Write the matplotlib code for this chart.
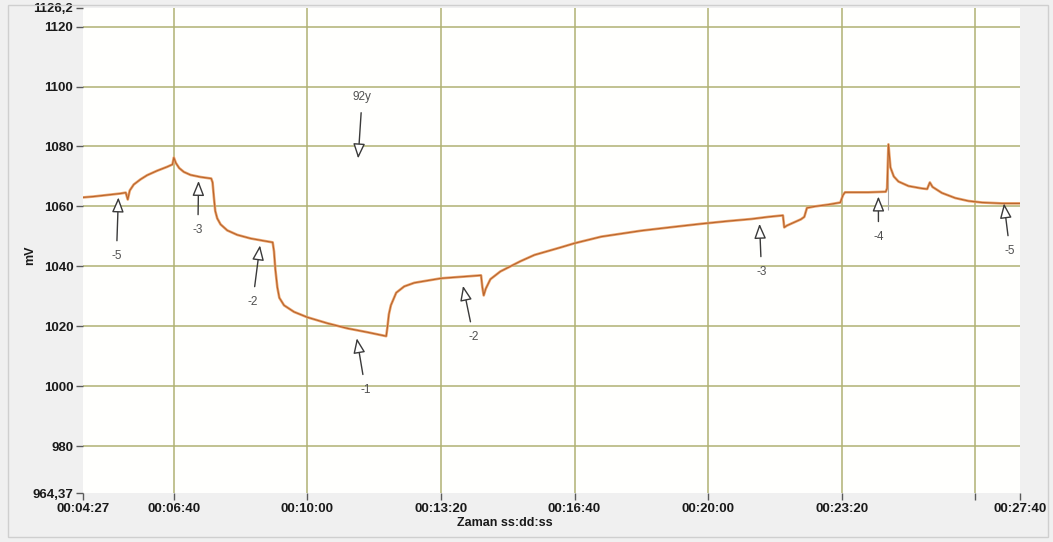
import matplotlib.pyplot as plt
from matplotlib.patches import Rectangle

# ---------------------------------------------------------------------------
# Ölçüm verisi (zaman: s, potansiyel: mV)
# ---------------------------------------------------------------------------
time_s = [
    264, 280, 300, 320, 328, 331, 334, 340, 350, 360, 375, 390, 398, 400,
    403, 408, 415, 425, 440, 456, 458, 460, 462, 465, 470, 480, 495, 515,
    535, 548, 550, 552, 555, 558, 565, 580, 600, 630, 660, 690, 718,
    720, 722, 725, 733, 745, 760, 800, 830, 860, 862, 864, 867, 874, 889,
    919, 940, 979, 1000, 1040, 1100, 1150, 1190, 1230, 1265, 1290, 1312,
    1314, 1318, 1330, 1339, 1344, 1348, 1360, 1380, 1398, 1402, 1405,
    1440, 1466, 1468, 1470, 1473, 1478, 1485, 1500, 1520, 1528, 1532,
    1536, 1550, 1570, 1590, 1610, 1640, 1667,
]
voltage_mv = [
    1063.0, 1063.3, 1063.8, 1064.3, 1064.6, 1062.3, 1065.3, 1067.3, 1069.0,
    1070.4, 1071.9, 1073.2, 1074.0, 1076.3,
    1074.5, 1072.8, 1071.5, 1070.5, 1069.8, 1069.3, 1068.0, 1063.0, 1058.5,
    1056.0, 1054.0, 1052.0, 1050.5, 1049.3,
    1048.5, 1048.0, 1045.0, 1039.0, 1033.0, 1029.5, 1027.0, 1024.8, 1023.0,
    1021.0, 1019.3, 1018.0, 1016.7,
    1020.0, 1024.0, 1027.0, 1031.2, 1033.3, 1034.5, 1036.0, 1036.5, 1037.0,
    1033.0, 1030.3, 1032.5, 1035.7, 1038.3,
    1041.7, 1043.8, 1046.3, 1047.7, 1049.9, 1051.9, 1053.2, 1054.2, 1055.1,
    1055.8, 1056.5, 1057.0,
    1053.0, 1053.6, 1054.8, 1055.7, 1056.5, 1059.5, 1060.0, 1060.6, 1061.3,
    1063.8, 1064.7,
    1064.7, 1064.9, 1066.0, 1080.7, 1073.0, 1070.0, 1068.3, 1066.8, 1066.0,
    1065.8, 1068.0,
    1066.5, 1064.5, 1062.8, 1061.8, 1061.3, 1061.0, 1061.0,
]

# ince dikey işaret çizgisi (sıçrama anı)
spike_t = 1470
spike_range = (1058.7, 1081.0)

# ok etiketleri: metin, metin konumu (t, mV), ok ucu (t, mV)
note_labels = ["-5", "-3", "-2", "92y", "-1", "-2", "-3", "-4", "-5"]
note_text_t = [314, 436, 518, 682, 687, 849, 1280, 1455, 1652]
note_text_v = [1043.3, 1052.0, 1028.0, 1096.5, 998.7, 1016.3, 1038.0, 1049.7, 1045.0]
note_head_t = [317, 437, 529, 676, 674, 833, 1277, 1455, 1643]
note_head_v = [1063.0, 1068.5, 1047.0, 1076.0, 1016.0, 1033.5, 1054.2, 1063.3, 1061.0]

# eksen sınırları ve etiketleri
x_min, x_max = 264, 1667
y_min, y_max = 964.37, 1126.2
x_ticks = [x_min, 400, 600, 800, 1000, 1200, 1400, 1600, x_max]
x_labels = ["00:04:27", "00:06:40", "00:10:00", "00:13:20", "00:16:40",
            "00:20:00", "00:23:20", "", "00:27:40"]
x_grid = [400, 600, 800, 1000, 1200, 1400, 1600]
y_grid = [980, 1000, 1020, 1040, 1060, 1080, 1100, 1120]
y_ticks = [y_min] + y_grid + [y_max]
y_labels = ["964,37"] + [str(v) for v in y_grid] + ["1126,2"]

# ---------------------------------------------------------------------------
# Çizim
# ---------------------------------------------------------------------------
W, H = 1053, 542
fig = plt.figure(figsize=(W / 100, H / 100), dpi=100)
fig.patch.set_facecolor("#f0f0f0")
fig.patches.append(Rectangle((8 / W, 5 / H), 1040 / W, 532 / H,
                             transform=fig.transFigure, fill=False,
                             edgecolor="#cfcfcf", linewidth=1.0))

ax = fig.add_axes([83 / W, (H - 493) / H, (1020 - 83) / W, (493 - 8) / H])
ax.set_facecolor("#fffffd")
for s in ax.spines.values():
    s.set_visible(False)

grid_color = "#b0b273"
for yv in y_grid:
    ax.axhline(yv, color=grid_color, lw=1.1, zorder=1)
for xv in x_grid:
    ax.axvline(xv, color=grid_color, lw=1.1, zorder=1)

ax.vlines(spike_t, *spike_range, color="#a8a8a8", lw=0.8, zorder=2)
ax.plot(time_s, voltage_mv, color="#eba56e", lw=1.9, zorder=3,
        solid_joinstyle="round")
ax.plot(time_s, voltage_mv, color="#b8642c", lw=0.8, zorder=4,
        solid_joinstyle="round")

for lab, tx, tv, hx, hv in zip(note_labels, note_text_t, note_text_v,
                               note_head_t, note_head_v):
    ax.annotate(lab, xy=(hx, hv), xytext=(tx, tv),
                ha="center", va="center", fontsize=8.5, color="#505050",
                family="Liberation Sans",
                arrowprops=dict(arrowstyle="-|>,head_length=0.75,head_width=0.3",
                                mutation_scale=12, fc="white", ec="#3a3a3a",
                                lw=1.0, shrinkA=5, shrinkB=0),
                zorder=5)

ax.set_xlim(x_min, x_max)
ax.set_ylim(y_min, y_max)
ax.set_xticks(x_ticks)
ax.set_xticklabels(x_labels)
ax.set_yticks(y_ticks)
ax.set_yticklabels(y_labels)
ax.tick_params(axis="both", colors="#5a5a5a", length=5, width=1.0,
               labelcolor="#1a1a1a", labelsize=9.5)
ax.tick_params(axis="x", pad=2)
ax.tick_params(axis="y", pad=2)
for lbl in ax.get_xticklabels() + ax.get_yticklabels():
    lbl.set_fontweight("bold")
    lbl.set_family("Liberation Sans")

fig.text(30 / W, 1 - 255 / H, "mV", rotation=90, ha="center", va="center",
         fontsize=9, fontweight="bold", family="Liberation Sans",
         color="#1a1a1a")
fig.text(505 / W, 1 - 523 / H, "Zaman ss:dd:ss", ha="center", va="center",
         fontsize=9, fontweight="bold", family="Liberation Sans",
         color="#1a1a1a")

fig.savefig("out.png", dpi=100, facecolor=fig.get_facecolor())
